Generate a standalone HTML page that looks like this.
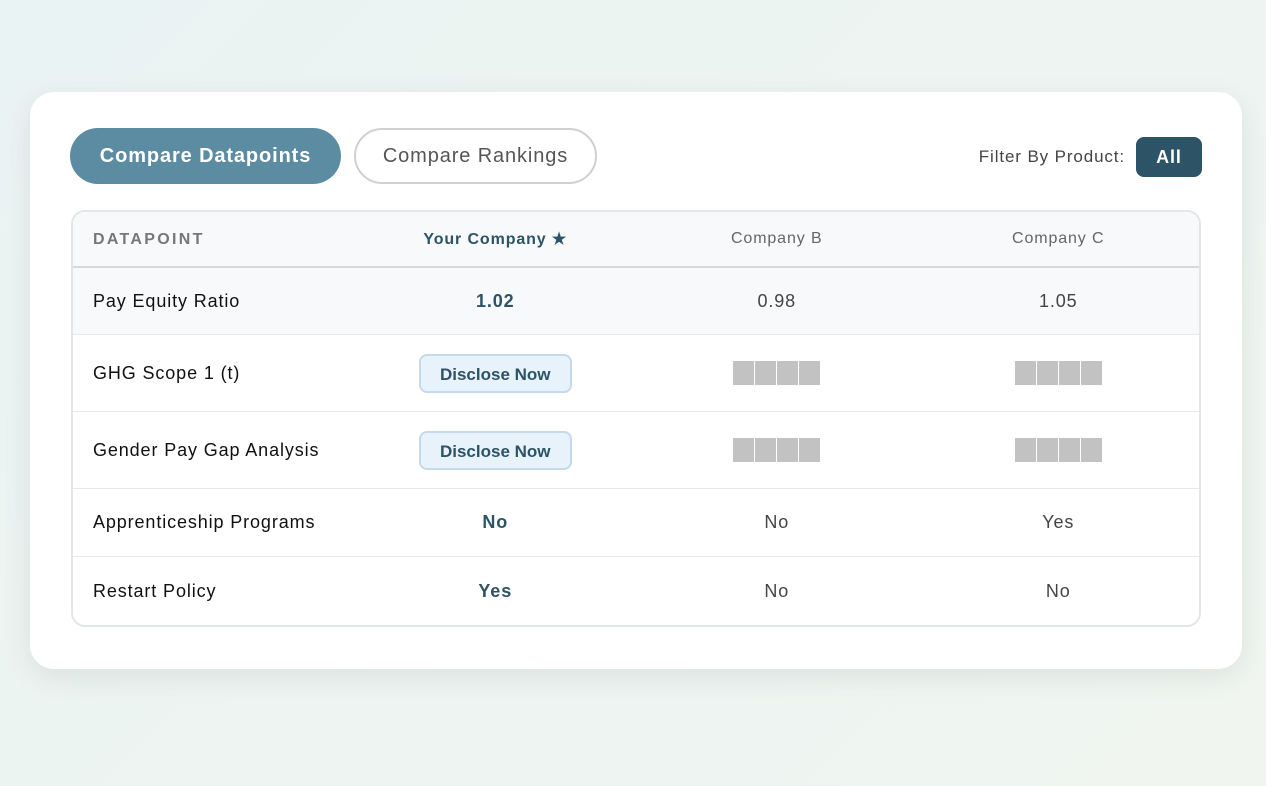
<!DOCTYPE html>
<html><head><meta charset="utf-8"><style>
*{box-sizing:border-box;margin:0;padding:0}
body{width:1266px;height:786px;background:linear-gradient(135deg,#eaf3f3,#f0f5f0);font-family:"Liberation Sans",Arial,sans-serif;position:relative;overflow:hidden;letter-spacing:0.055em}
.card{position:absolute;left:30px;top:92px;width:1212px;height:577px;background:#fff;border-radius:24px;box-shadow:0 8px 30px rgba(0,0,0,0.08)}
.btn{position:absolute;top:36px;height:56px;border-radius:28px;font-size:20px;display:flex;align-items:center;justify-content:center}
.b1{left:40px;width:271px;background:#5b8ca2;color:#fff;font-weight:bold}
.b2{left:324px;width:243px;border:2px solid #d0d0d0;color:#555;background:#fff}
.filter{position:absolute;right:40px;top:45px;display:flex;align-items:center;font-size:17px;color:#444}
.all{margin-left:11px;background:#2c5366;color:#fff;font-weight:bold;width:66px;height:40px;border-radius:8px;display:flex;align-items:center;justify-content:center;font-size:18px}
table{position:absolute;left:41px;top:118px;width:1130px;border-collapse:separate;border-spacing:0;border:2px solid #e3e6e8;border-radius:14px;overflow:hidden}
td,th{width:25%;text-align:center;font-size:18px;color:#444;border-bottom:1px solid #e8e8e8}
th{height:56px;background:#f8f9fa;font-weight:normal;font-size:16px;color:#666;border-bottom:2px solid #d8d8d8}
th:first-child{text-align:left;padding-left:20px;font-weight:bold;letter-spacing:2.3px;color:#777;padding-top:2px}
td:first-child{text-align:left;padding-left:20px;color:#111}
th.y{color:#2c5366;font-weight:bold}
td.y{color:#2c5366;font-weight:bold}
tr:last-child td{border-bottom:none}
.r1 td{background:#f8f9fb;height:67px}
.h77 td{height:77px}.h68 td{height:68px}
.dn{display:inline-block;width:153px;height:39px;line-height:37px;background:#e8f2fa;border:2px solid #c5d9ea;border-radius:8px;color:#2c5366;font-weight:bold;font-size:17px;letter-spacing:0}
.blk{display:inline-flex;gap:1px;vertical-align:middle}
.blk span{width:21px;height:24px;background:#c2c2c2}
</style></head><body>
<div class="card">
<div class="btn b1">Compare Datapoints</div>
<div class="btn b2">Compare Rankings</div>
<div class="filter">Filter By Product:<div class="all">All</div></div>
<table>
<tr><th>DATAPOINT</th><th class="y">Your Company ★</th><th>Company B</th><th>Company C</th></tr>
<tr class="r1"><td>Pay Equity Ratio</td><td class="y">1.02</td><td>0.98</td><td>1.05</td></tr>
<tr class="h77"><td>GHG Scope 1 (t)</td><td><span class="dn">Disclose Now</span></td><td><span class="blk"><span></span><span></span><span></span><span></span></span></td><td><span class="blk"><span></span><span></span><span></span><span></span></span></td></tr>
<tr class="h77"><td>Gender Pay Gap Analysis</td><td><span class="dn">Disclose Now</span></td><td><span class="blk"><span></span><span></span><span></span><span></span></span></td><td><span class="blk"><span></span><span></span><span></span><span></span></span></td></tr>
<tr class="h68"><td>Apprenticeship Programs</td><td class="y">No</td><td>No</td><td>Yes</td></tr>
<tr class="h68"><td>Restart Policy</td><td class="y">Yes</td><td>No</td><td>No</td></tr>
</table>
</div>
</body></html>
